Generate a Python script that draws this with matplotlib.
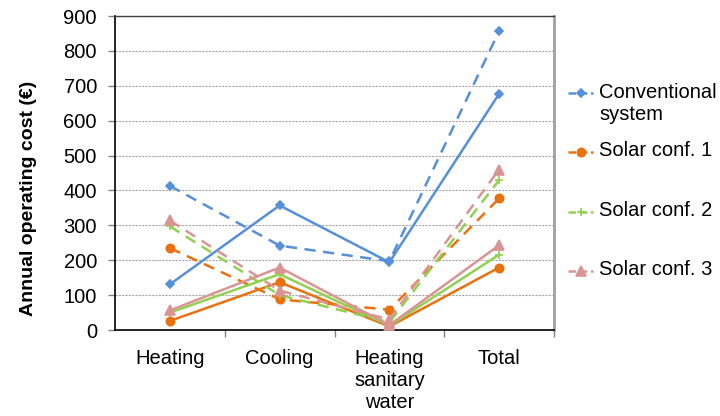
import matplotlib
matplotlib.use("Agg")
import matplotlib.pyplot as plt
from matplotlib.lines import Line2D
from matplotlib.ticker import FixedLocator

plt.rcParams['font.family'] = ['Liberation Sans', 'DejaVu Sans']

categories = ["Heating", "Cooling", "Heating\nsanitary\nwater", "Total"]

# dashed series (legend entries)
conv_dashed = [413, 242, 197, 857]
solar1_dashed = [235, 88, 58, 377]
solar2_dashed = [297, 100, 22, 430]
solar3_dashed = [314, 113, 30, 460]

# solid series
conv_solid = [131, 357, 194, 677]
solar1_solid = [26, 137, 10, 179]
solar2_solid = [50, 160, 12, 216]
solar3_solid = [56, 179, 14, 243]

labels = ["Conventional\nsystem", "Solar conf. 1", "Solar conf. 2", "Solar conf. 3"]
colors = ["#5690D8", "#E9720F", "#92D050", "#D99594"]
markers = ["D", "o", "+", "^"]
msizes = [4.5, 6, 6, 7]

FS = 14.5
x = list(range(len(categories)))

fig = plt.figure(figsize=(7.2, 4.16), dpi=100)
ax = fig.add_axes([115 / 720, 86 / 416, 439 / 720, 314 / 416])

dashed = [conv_dashed, solar1_dashed, solar2_dashed, solar3_dashed]
solid = [conv_solid, solar1_solid, solar2_solid, solar3_solid]

for i in range(4):
    ax.plot(x, solid[i], color=colors[i], lw=1.8, marker=markers[i],
            ms=msizes[i], mew=1.2, zorder=3)
    ax.plot(x, dashed[i], color=colors[i], lw=1.8, ls=(0, (4.5, 3)),
            marker=markers[i], ms=msizes[i], mew=1.2, zorder=3)

ax.set_xlim(-0.5, 3.5)
ax.set_ylim(0, 900)
ax.set_yticks(range(0, 901, 100))
ax.yaxis.grid(True, color="#A6A6A6", ls=(0, (2, 1)), lw=0.8)
ax.set_axisbelow(True)

ax.set_xticks(x)
ax.set_xticklabels(categories, fontsize=FS, linespacing=1.2, va="top")
ax.tick_params(axis="x", which="major", length=0, pad=14)
ax.xaxis.set_minor_locator(FixedLocator([0.5, 1.5, 2.5, 3.5]))
ax.tick_params(axis="x", which="minor", length=5, width=1, color="#808080",
               direction="out")
ax.tick_params(axis="y", labelsize=FS, length=5, width=1, color="#808080",
               direction="out", pad=8)

for side in ["left", "bottom"]:
    ax.spines[side].set_color("black")
    ax.spines[side].set_linewidth(1.2)
ax.spines["top"].set_color("#404040")
ax.spines["top"].set_linewidth(1.0)
ax.spines["right"].set_color("#A0A0A0")
ax.spines["right"].set_linewidth(2.0)

ax.set_ylabel("Annual operating cost (€)", fontsize=14, fontweight="bold")
ax.yaxis.set_label_coords(-0.178, 0.42)

# legend drawn by hand so the rows can sit where they should (axes coords)
leg_y = [0.756, 0.567, 0.376, 0.188]
hx0, hx1, tx = 1.033, 1.088, 1.103
for i in range(4):
    ax.add_line(Line2D([hx0, hx1], [leg_y[i], leg_y[i]], transform=ax.transAxes,
                       color=colors[i], lw=1.8, ls=(0, (3, 1.5)), clip_on=False))
    ax.add_line(Line2D([(hx0 + hx1) / 2], [leg_y[i]], transform=ax.transAxes,
                       color=colors[i], marker=markers[i], ms=msizes[i], mew=1.2,
                       ls="none", clip_on=False))
    if i == 0:
        ax.text(tx, leg_y[i] + 0.03, labels[i], transform=ax.transAxes,
                fontsize=FS, va="top", ha="left", linespacing=1.2)
    else:
        ax.text(tx, leg_y[i] + 0.004, labels[i], transform=ax.transAxes,
                fontsize=FS, va="center", ha="left")

fig.savefig("out.png", dpi=100)
